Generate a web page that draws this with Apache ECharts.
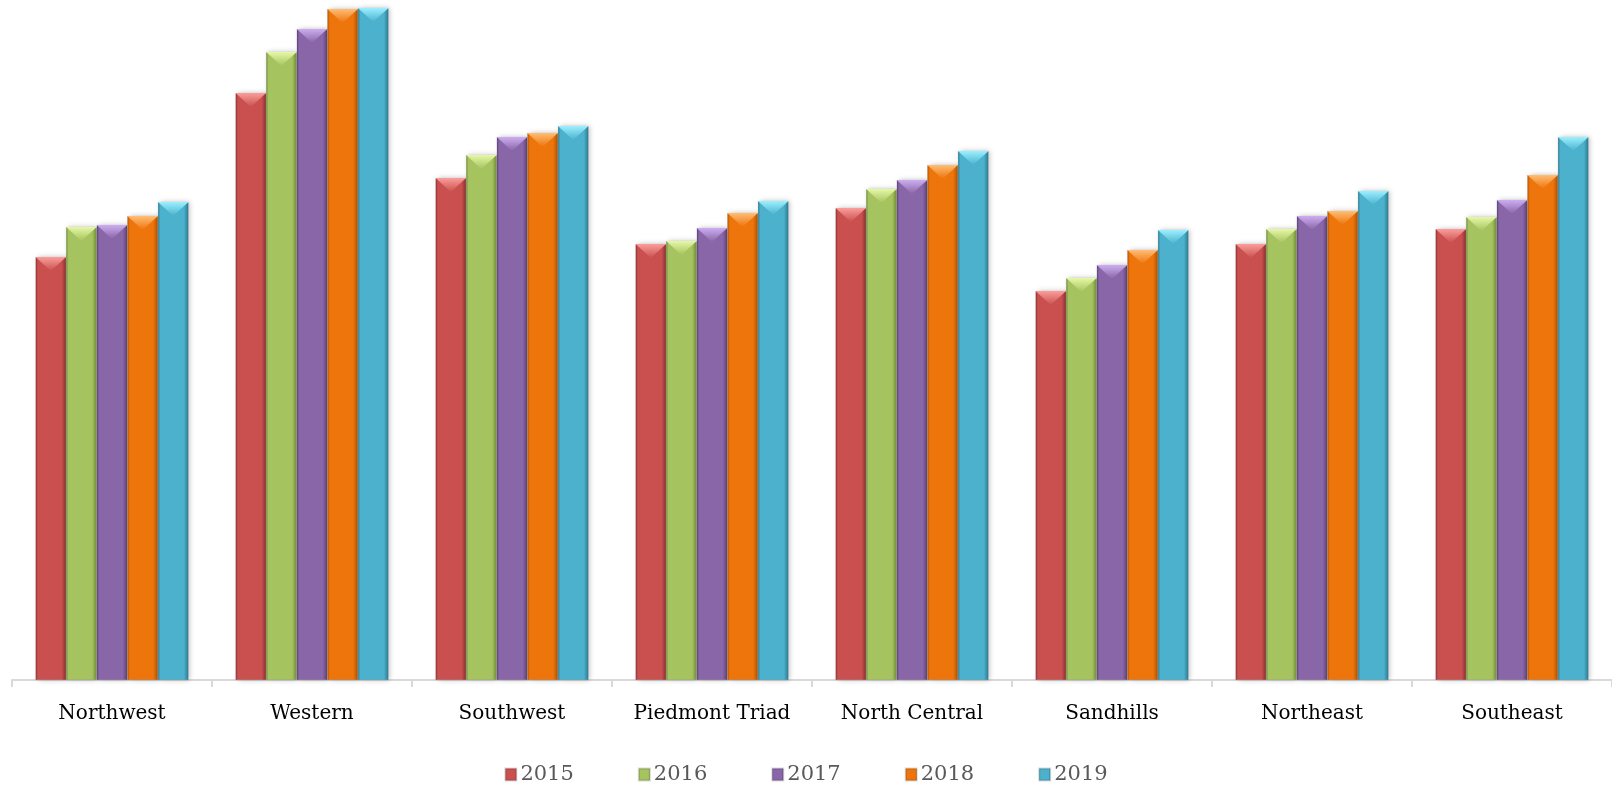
<!DOCTYPE html>
<html>
<head>
<meta charset="utf-8">
<script src="https://cdn.jsdelivr.net/npm/echarts@6/dist/echarts.min.js"></script>
<style>
html,body{margin:0;padding:0;background:#fff;}
#chart{width:1612px;height:785px;}
</style>
</head>
<body>
<div id="chart"></div>
<script>
const categories = ['Northwest','Western','Southwest','Piedmont Triad','North Central','Sandhills','Northeast','Southeast'];
const years = ['2015','2016','2017','2018','2019'];
const v2015 = [423, 587, 502, 436, 472, 389, 436, 451];
const v2016 = [453, 628, 525, 439, 491, 402, 451, 463];
const v2017 = [455, 651, 543, 452, 500, 415, 464, 480];
const v2018 = [464, 671, 547, 467, 515, 430, 469, 505];
const v2019 = [478, 672, 554, 479, 529, 450, 489, 543];
const seriesValues = [v2015, v2016, v2017, v2018, v2019];

const palette = [
  {base:'#C9504F', light:'#FA9E9B', dark:'#8C302E'},
  {base:'#A5C35F', light:'#E6F8A6', dark:'#728C38'},
  {base:'#8866A8', light:'#CDADF0', dark:'#5C4278'},
  {base:'#EE740C', light:'#FFBE75', dark:'#AE5000'},
  {base:'#4BB1CC', light:'#9CF0FF', dark:'#2C7A90'}
];

function sideGrad(p){
  return new echarts.graphic.LinearGradient(0,0,1,0,[
    {offset:0, color:p.dark},
    {offset:0.08, color:p.base},
    {offset:0.85, color:p.base},
    {offset:1, color:p.dark}
  ]);
}
function capGrad(p){
  return new echarts.graphic.LinearGradient(0,0,0,1,[
    {offset:0, color:p.light},
    {offset:1, color:p.base}
  ]);
}

const series = [];
years.forEach((y,i)=>{
  series.push({
    name:y, type:'bar', data:seriesValues[i],
    barGap:'0%', barCategoryGap:'23.5%',
    itemStyle:{color:sideGrad(palette[i]), borderColor:'rgba(0,0,0,0.15)', borderWidth:0.5,
      shadowBlur:5, shadowColor:'rgba(0,0,0,0.25)', shadowOffsetX:2, shadowOffsetY:0},
    emphasis:{disabled:true}, z:2
  });
});
years.forEach((y,i)=>{
  series.push({
    name:y, type:'pictorialBar', data:seriesValues[i],
    barGap:'0%', barCategoryGap:'23.5%',
    symbol:'path://M0,0 L100,0 L50,40 Z',
    symbolSize:['100%',14], symbolPosition:'end', symbolOffset:[0,0],
    symbolKeepAspect:false,
    itemStyle:{color:capGrad(palette[i])},
    emphasis:{disabled:true}, z:3, silent:true
  });
});

const chart = echarts.init(document.getElementById('chart'));
chart.setOption({
  animation:false,
  backgroundColor:'#ffffff',
  color:palette.map(p=>p.base),
  grid:{left:12, right:0, top:0, bottom:105, containLabel:false},
  legend:{
    data:years.map((y,i)=>({name:y, itemStyle:{color:sideGrad(palette[i])}})),
    left:'center', top:759, itemWidth:11, itemHeight:12, itemGap:64,
    icon:'rect',
    textStyle:{fontFamily:'DejaVu Serif', fontSize:21, color:'#595959', padding:[0,0,0,-1]}
  },
  xAxis:{
    type:'category', data:categories,
    axisLine:{show:true, lineStyle:{color:'#D9D9D9', width:2}},
    axisTick:{show:true, interval:0, length:7, lineStyle:{color:'#D9D9D9', width:2}},
    axisLabel:{interval:0, fontFamily:'DejaVu Serif', fontSize:20, color:'#000000', margin:24}
  },
  yAxis:{type:'value', min:0, max:680, show:false, splitLine:{show:false}},
  series:series
});
</script>
</body>
</html>
